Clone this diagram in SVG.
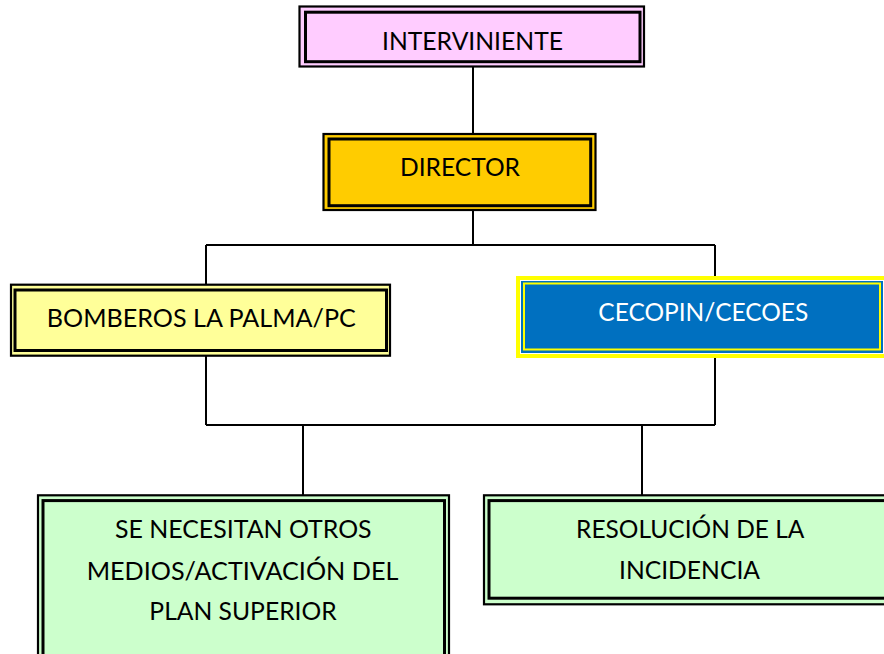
<svg xmlns="http://www.w3.org/2000/svg" width="884" height="654" viewBox="0 0 884 654">
<style>
.o{stroke:#000;stroke-width:2.2}
.i{fill:none;stroke:#000;stroke-width:3}
.t{font-family:Lato,"Liberation Sans",Arial,sans-serif;font-size:25.5px;fill:#000;text-anchor:middle}
.w{fill:#fff}
.c{fill:none;stroke:#000;stroke-width:2}
</style>
<rect width="884" height="654" fill="#fff"/>
<g id="connectors">
<path class="c" d="M473 66V134M473 211V245M206 245H715M206 245V284M715 245V277M206 356V425M715 357V425M206 425H715M303 425V495M642 425V495"/>
</g>
<g id="intervininente">
<rect class="o" x="299.5" y="6.5" width="344.5" height="60" fill="#FFCCFF"/>
<rect class="i" x="305.5" y="12.2" width="334.5" height="49.5"/>
<text class="t" x="472.5" y="50" textLength="181" lengthAdjust="spacingAndGlyphs">INTERVINIENTE</text>
</g>
<g id="director">
<rect class="o" x="323.5" y="134" width="272" height="76" fill="#FFCC00"/>
<rect class="i" x="329" y="139" width="261.7" height="66.7"/>
<text class="t" x="460" y="175.7" textLength="120" lengthAdjust="spacingAndGlyphs">DIRECTOR</text>
</g>
<g id="bomberos">
<rect class="o" x="11" y="284.7" width="379" height="71" fill="#FFFF99"/>
<rect class="i" x="15" y="290" width="371.5" height="60.5"/>
<text class="t" x="201.3" y="327.3" textLength="309" lengthAdjust="spacingAndGlyphs">BOMBEROS LA PALMA/PC</text>
</g>
<g id="cecopin">
<rect x="518" y="278" width="372" height="78" fill="#fff" stroke="#FFFF00" stroke-width="4"/>
<rect x="521" y="281" width="362" height="72" fill="#0070C0"/>
<rect x="524" y="283.5" width="356" height="66" fill="none" stroke="#FFFF00" stroke-width="2"/>
<text class="t w" x="703.3" y="320.7" textLength="210" lengthAdjust="spacingAndGlyphs">CECOPIN/CECOES</text>
</g>
<g id="otros-medios">
<rect class="o" x="38" y="495.3" width="411" height="180" fill="#CCFFCC"/>
<rect class="i" x="43" y="500.6" width="401.5" height="170"/>
<text class="t" x="243.3" y="538.3" textLength="256.7" lengthAdjust="spacingAndGlyphs">SE NECESITAN OTROS</text>
<text class="t" x="242.5" y="579.5" textLength="311.7" lengthAdjust="spacingAndGlyphs">MEDIOS/ACTIVACIÓN DEL</text>
<text class="t" x="243" y="620" textLength="187.3" lengthAdjust="spacingAndGlyphs">PLAN SUPERIOR</text>
</g>
<g id="resolucion">
<rect class="o" x="484" y="495.3" width="420" height="109" fill="#CCFFCC"/>
<rect class="i" x="489" y="500.6" width="410" height="97.6"/>
<text class="t" x="690.2" y="538.3" textLength="228.3" lengthAdjust="spacingAndGlyphs">RESOLUCIÓN DE LA</text>
<text class="t" x="689.5" y="579" textLength="141" lengthAdjust="spacingAndGlyphs">INCIDENCIA</text>
</g>
</svg>
